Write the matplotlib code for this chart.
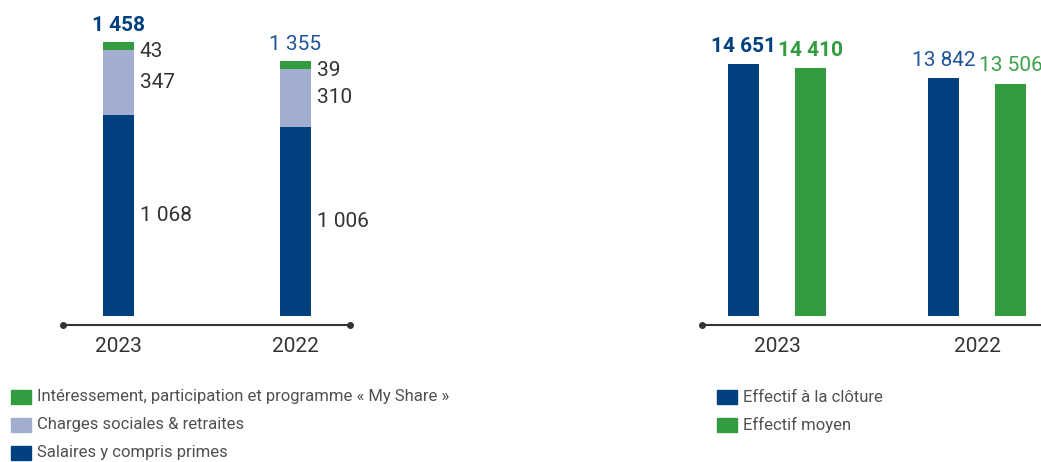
import matplotlib.pyplot as plt
from matplotlib.patches import Rectangle

plt.rcParams['font.family'] = ['Roboto', 'DejaVu Sans']

# Données : masse salariale (M€)
annees = ['2023', '2022']
salaires = [1068, 1006]
charges = [347, 310]
interessement = [43, 39]
totaux = [1458, 1355]

# Données : effectifs
effectif_cloture = [14651, 13842]
effectif_moyen = [14410, 13506]

legende_gauche = ['Intéressement, participation et programme « My Share »',
                  'Charges sociales & retraites',
                  'Salaires y compris primes']
legende_droite = ['Effectif à la clôture', 'Effectif moyen']

BLEU = '#00407f'
BLEU_CLAIR = '#1f559a'
VERT = '#339c40'
VERT_CLAIR = '#3da249'
LAVANDE = '#a1aed0'
GRIS = '#333333'
GRIS_LEG = '#505050'

W, H = 1041, 462
FS = 15


def fmt(v):
    return f'{v:,}'.replace(',', ' ')


def px(x0, y0, x1, y1):
    return [x0 / W, 1 - y1 / H, (x1 - x0) / W, (y1 - y0) / H]


fig = plt.figure(figsize=(W / 100, H / 100), dpi=100)

# ---- Graphique de gauche : masse salariale empilée
ax1 = fig.add_axes(px(63, 0, 350, 325))
ax1.set_xlim(-0.3136, 1.308)
ax1.set_ylim(-48, 1681)
ax1.axis('off')
x = [0, 1]
largeur = 0.175
ax1.bar(x, salaires, largeur, color=BLEU)
bas = salaires
ax1.bar(x, charges, largeur, bottom=bas, color=LAVANDE)
bas2 = [a + b for a, b in zip(salaires, charges)]
ax1.bar(x, interessement, largeur, bottom=bas2, color=VERT)

for i in range(2):
    segs = [(salaires[i], 0, 0), (charges[i], bas[i], 0), (interessement[i], bas2[i], -4)]
    for val, b, dy in segs:
        ax1.annotate(fmt(val), (x[i] + largeur / 2, b + val / 2), xytext=(4, dy),
                     textcoords='offset points', ha='left', va='center',
                     fontsize=FS, color=GRIS)
    ax1.annotate(fmt(totaux[i]), (x[i], totaux[i]), xytext=(0, 5),
                 textcoords='offset points', ha='center', va='bottom',
                 fontsize=FS, color=BLEU if i == 0 else BLEU_CLAIR,
                 fontweight='bold' if i == 0 else 'normal')
    ax1.annotate(annees[i], (x[i], -48), xytext=(0, -9), textcoords='offset points',
                 ha='center', va='top', fontsize=FS, color=GRIS)

ax1.plot([-0.3136, 1.308], [-48, -48], color=GRIS, lw=1.5, marker='o', ms=4,
         clip_on=False)

# ---- Graphique de droite : effectifs
ax2 = fig.add_axes(px(702, 0, 1041, 325))
ax2.set_xlim(-0.375, 1.32)
ax2.set_ylim(-523, 18372)
ax2.axis('off')
dec = 0.1675
lg = 0.155
ax2.bar([v - dec for v in x], effectif_cloture, lg, color=BLEU)
ax2.bar([v + dec for v in x], effectif_moyen, lg, color=VERT)
for i in range(2):
    gras = 'bold' if i == 0 else 'normal'
    ax2.annotate(fmt(effectif_cloture[i]), (x[i] - dec, effectif_cloture[i]), xytext=(0, 6),
                 textcoords='offset points', ha='center', va='bottom', fontsize=FS,
                 color=BLEU if i == 0 else BLEU_CLAIR, fontweight=gras)
    ax2.annotate(fmt(effectif_moyen[i]), (x[i] + dec, effectif_moyen[i]), xytext=(0, 6),
                 textcoords='offset points', ha='center', va='bottom', fontsize=FS,
                 color=VERT if i == 0 else VERT_CLAIR, fontweight=gras)
    ax2.annotate(annees[i], (x[i], -523), xytext=(0, -9), textcoords='offset points',
                 ha='center', va='top', fontsize=FS, color=GRIS)
ax2.plot([-0.375, 1.4], [-523, -523], color=GRIS, lw=1.5, marker='o', ms=4,
         markevery=[0], clip_on=False)

# ---- Légendes
for j, (lab, col) in enumerate(zip(legende_gauche, [VERT, LAVANDE, BLEU])):
    y0 = 390 + 28 * j
    fig.patches.append(Rectangle((11 / W, 1 - (y0 + 14) / H), 20 / W, 14 / H,
                                 transform=fig.transFigure, color=col))
    fig.text(37 / W, 1 - (y0 + 7) / H, lab, ha='left', va='center', fontsize=12,
             color=GRIS_LEG)
for j, (lab, col) in enumerate(zip(legende_droite, [BLEU, VERT])):
    y0 = 390 + 28 * j
    fig.patches.append(Rectangle((717 / W, 1 - (y0 + 14) / H), 20 / W, 14 / H,
                                 transform=fig.transFigure, color=col))
    fig.text(743 / W, 1 - (y0 + 7) / H, lab, ha='left', va='center', fontsize=12,
             color=GRIS_LEG)

fig.savefig('out.png', dpi=100)
